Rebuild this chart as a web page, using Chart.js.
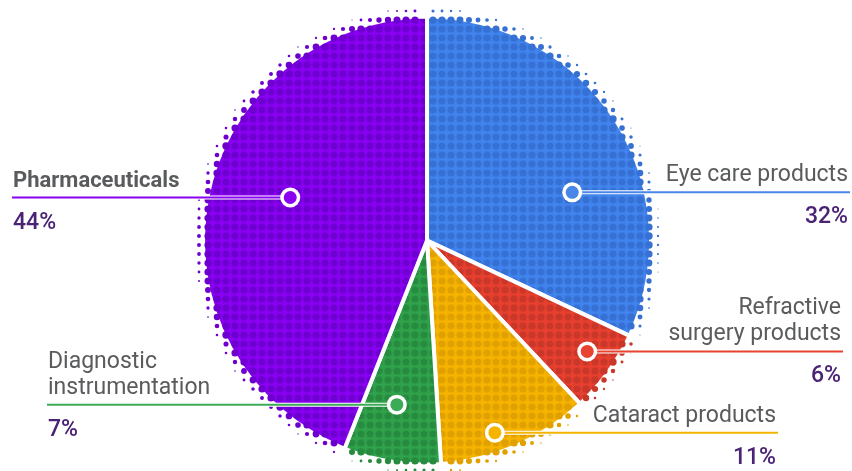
<!DOCTYPE html>
<html>
<head>
<meta charset="utf-8">
<script src="https://cdn.jsdelivr.net/npm/chart.js@4.4.1/dist/chart.umd.min.js"></script>
<style>
  html, body { margin: 0; padding: 0; background: #fff; }
  #wrap { width: 852px; height: 471px; position: relative; }
</style>
</head>
<body>
<div id="wrap"><canvas id="share-chart"></canvas></div>
<script>
const categories = [
  ["Eye care products"],
  ["Refractive", "surgery products"],
  ["Cataract products"],
  ["Diagnostic", "instrumentation"],
  ["Pharmaceuticals"],
];
const shares = [32, 6, 11, 7, 44];

// slice fill / halftone dot / callout line colours
const baseColors = ["#4184ee", "#e8402f", "#f6b400", "#30a24c", "#8a00f2"];
const dotColors = ["#3670d2", "#c8372a", "#e0a000", "#278b3f", "#6e00cf"];
const lineColors = ["#4a86e8", "#e8432f", "#f4b400", "#3cab58", "#8a00f0"];

// where each callout marker sits inside its slice (t = fraction along the slice angle,
// r = fraction of the radius) and where its leader line ends
const callouts = [
  { t: 0.622, r: 0.683, endX: 850, align: "right" },
  { t: 0.44, r: 0.87, endX: 843, align: "right" },
  { t: 0.6, r: 0.91, endX: 778, align: "right" },
  { t: 0.556, r: 0.745, endX: 47, align: "left" },
  { t: 0.542, r: 0.64, endX: 12, align: "left", bold: true },
];

const GRID = 9;
const PHASE_X = 1;
const PHASE_Y = 2;

function dotPattern(base, dot) {
  const tile = document.createElement("canvas");
  tile.width = GRID;
  tile.height = GRID;
  const c = tile.getContext("2d");
  c.fillStyle = base;
  c.fillRect(0, 0, GRID, GRID);
  c.fillStyle = dot;
  c.beginPath();
  c.arc(GRID / 2, GRID / 2, 3.6, 0, Math.PI * 2);
  c.fill();
  const ctx = document.createElement("canvas").getContext("2d");
  const pattern = ctx.createPattern(tile, "repeat");
  pattern.setTransform(new DOMMatrix().translate(PHASE_X - GRID / 2, PHASE_Y - GRID / 2));
  return pattern;
}

// dots that shrink away from the rim of each slice
const halftoneEdge = {
  id: "halftoneEdge",
  afterDatasetsDraw(chart) {
    const ctx = chart.ctx;
    ctx.save();
    chart.getDatasetMeta(0).data.forEach((arc, i) => {
      const { x, y, startAngle, endAngle, outerRadius } = arc.getProps(
        ["x", "y", "startAngle", "endAngle", "outerRadius"], true);
      const edge = outerRadius - 2;
      const reach = edge + 14;
      ctx.fillStyle = dotColors[i];
      const x0 = Math.floor((x - reach - PHASE_X) / GRID) * GRID + PHASE_X;
      const y0 = Math.floor((y - reach - PHASE_Y) / GRID) * GRID + PHASE_Y;
      for (let gx = x0; gx <= x + reach; gx += GRID) {
        for (let gy = y0; gy <= y + reach; gy += GRID) {
          const dx = gx - x;
          const dy = gy - y;
          const dist = Math.hypot(dx, dy);
          const d = dist - edge;
          if (d < -6 || d > 13) continue;
          let a = Math.atan2(dy, dx);
          while (a < startAngle) a += Math.PI * 2;
          while (a > startAngle + Math.PI * 2) a -= Math.PI * 2;
          const gap = 5 / dist;
          if (a - startAngle < gap || endAngle - a < gap) continue;
          const r = d <= 0 ? 3.6 : 3.7 * (1 - d / 13);
          if (r < 0.5) continue;
          ctx.beginPath();
          ctx.arc(gx, gy, r, 0, Math.PI * 2);
          ctx.fill();
        }
      }
    });
    ctx.restore();
  },
};

// leader lines, ringed markers and the category / share labels
const calloutLabels = {
  id: "calloutLabels",
  afterDraw(chart) {
    const ctx = chart.ctx;
    ctx.save();
    chart.getDatasetMeta(0).data.forEach((arc, i) => {
      const { x, y, startAngle, endAngle, outerRadius } = arc.getProps(
        ["x", "y", "startAngle", "endAngle", "outerRadius"], true);
      const c = callouts[i];
      const a = startAngle + (endAngle - startAngle) * c.t;
      const mx = x + Math.cos(a) * outerRadius * c.r;
      const my = y + Math.sin(a) * outerRadius * c.r;

      ctx.lineCap = "butt";
      ctx.strokeStyle = "#ffffff";
      ctx.lineWidth = 4;
      ctx.beginPath();
      ctx.moveTo(mx, my);
      ctx.lineTo(c.endX, my);
      ctx.stroke();
      ctx.strokeStyle = lineColors[i];
      ctx.lineWidth = 2;
      ctx.beginPath();
      ctx.moveTo(mx, my);
      ctx.lineTo(c.endX, my);
      ctx.stroke();

      ctx.fillStyle = "#ffffff";
      ctx.beginPath();
      ctx.arc(mx, my, 10, 0, Math.PI * 2);
      ctx.fill();
      ctx.fillStyle = lineColors[i];
      ctx.beginPath();
      ctx.arc(mx, my, 6.5, 0, Math.PI * 2);
      ctx.fill();

      const tx = c.align === "right" ? c.endX - 2 : c.endX + 1;
      ctx.textAlign = c.align;
      ctx.textBaseline = "alphabetic";
      ctx.fillStyle = "#5a5b5d";
      ctx.font = (c.bold ? "bold 22px" : "23px") + " Roboto";
      const lines = categories[i];
      lines.forEach((line, k) => {
        ctx.fillText(line, tx, my - 11 - (lines.length - 1 - k) * 26);
      });
      ctx.fillStyle = "#4b2375";
      ctx.font = "500 23px Roboto";
      ctx.fillText(shares[i] + "%", tx, my + 31);
    });
    ctx.restore();
  },
};

new Chart(document.getElementById("share-chart"), {
  type: "pie",
  data: {
    labels: categories,
    datasets: [
      {
        data: shares,
        backgroundColor: baseColors.map((b, i) => dotPattern(b, dotColors[i])),
        borderColor: "#ffffff",
        borderWidth: 4,
      },
    ],
  },
  options: {
    responsive: true,
    maintainAspectRatio: false,
    animation: false,
    radius: 224,
    layout: { padding: { left: 2, right: 0, top: 10, bottom: 0 } },
    plugins: {
      legend: { display: false },
      tooltip: { enabled: false },
    },
  },
  plugins: [halftoneEdge, calloutLabels],
});
</script>
</body>
</html>
